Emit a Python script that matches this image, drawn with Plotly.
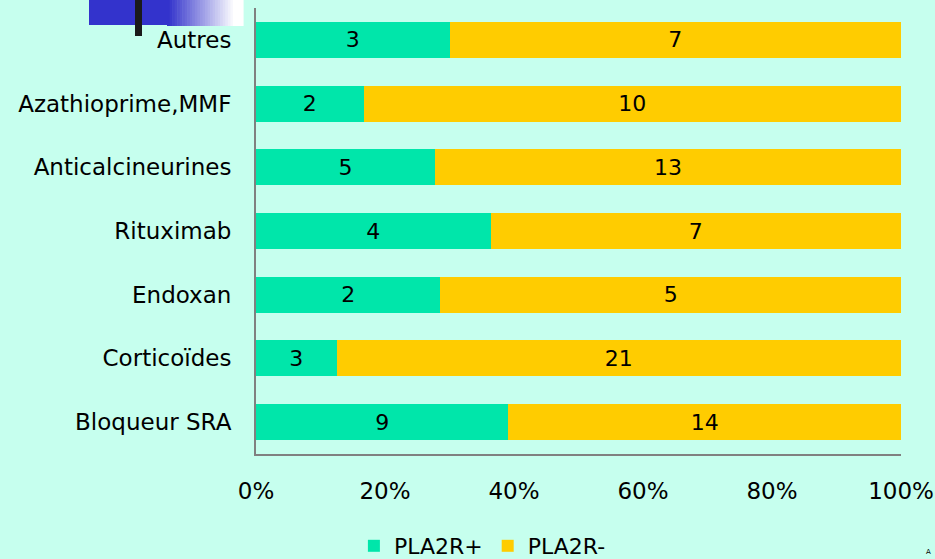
"""100% stacked bar chart: PLA2R+ / PLA2R- by treatment."""

import plotly.graph_objects as go

categories = ["Autres", "Azathioprime,MMF", "Anticalcineurines", "Rituximab",
              "Endoxan", "Corticoïdes", "Bloqueur SRA"]
pla2r_pos = [3, 2, 5, 4, 2, 3, 9]
pla2r_neg = [7, 10, 13, 7, 5, 21, 14]
x_ticks = [0, 20, 40, 60, 80, 100]

BG = "#C6FFEE"
GREEN = "#00E6AA"
YELLOW = "#FFCC00"
FONT = "DejaVu Sans"
W, H = 935, 559

# plot area in pixels (used for the decoration shapes only)
PL, PR, PT, PB = 256, 901, 8, 454

fig = go.Figure()
for name, vals, color in [("PLA2R+", pla2r_pos, GREEN), ("PLA2R-", pla2r_neg, YELLOW)]:
    fig.add_trace(
        go.Bar(
            y=categories,
            x=vals,
            name=name,
            orientation="h",
            marker=dict(color=color, line=dict(width=0)),
            text=[str(v) for v in vals],
            textposition="inside",
            insidetextanchor="middle",
            textangle=0,
            textfont=dict(family=FONT, size=22, color="#000000"),
        )
    )


def px(x):
    return (x - PL) / (PR - PL)


def py(y):
    return (PB - y) / (PB - PT)


# decoration in the top-left corner: blue band fading to white, black bar
shapes = [dict(type="rect", xref="paper", yref="paper", layer="below",
               x0=px(89), x1=px(167), y0=py(25), y1=py(0),
               fillcolor="#3333CC", line=dict(width=0))]
steps = 30
for i in range(steps):
    t = min(1.0, i / (steps - 4))
    r = int(0x33 + (255 - 0x33) * t)
    b = int(0xCC + (255 - 0xCC) * t)
    x0 = 167 + i * (243 - 167) / steps
    x1 = 167 + (i + 1) * (243 - 167) / steps + 0.6
    shapes.append(dict(type="rect", xref="paper", yref="paper", layer="below",
                       x0=px(x0), x1=px(x1), y0=py(26), y1=py(0),
                       fillcolor=f"rgb({r},{r},{b})", line=dict(width=0)))
shapes.append(dict(type="rect", xref="paper", yref="paper",
                   x0=px(135), x1=px(142), y0=py(36), y1=py(0),
                   fillcolor="#1A1A1A", line=dict(width=0)))

fig.update_layout(
    width=W,
    height=H,
    barmode="stack",
    barnorm="percent",
    bargap=0.435,
    paper_bgcolor=BG,
    plot_bgcolor=BG,
    font=dict(family=FONT, size=23, color="#000000"),
    margin=dict(l=PL, r=W - PR, t=PT, b=H - PB, autoexpand=False),
    shapes=shapes,
    showlegend=True,
    legend=dict(
        orientation="h",
        traceorder="normal",
        x=0.351,
        xanchor="center",
        y=py(546),
        yanchor="middle",
        font=dict(family=FONT, size=22),
        bgcolor="rgba(0,0,0,0)",
        itemwidth=30,
    ),
    annotations=[
        dict(text="A", xref="paper", yref="paper", x=px(928), y=py(558),
             xanchor="center", yanchor="bottom", showarrow=False,
             font=dict(family=FONT, size=7, color="#000000")),
    ],
    xaxis=dict(
        range=[0, 100],
        tickvals=x_ticks,
        ticktext=[f"{v}%" for v in x_ticks],
        showgrid=False,
        zeroline=False,
        showline=True,
        linecolor="#808080",
        linewidth=2,
        ticks="",
        ticklabelstandoff=15,
        tickfont=dict(family=FONT, size=23),
        automargin=False,
        fixedrange=True,
    ),
    yaxis=dict(
        autorange="reversed",
        showgrid=False,
        zeroline=False,
        showline=True,
        linecolor="#808080",
        linewidth=2,
        ticks="",
        ticklabelstandoff=18,
        tickfont=dict(family=FONT, size=23),
        automargin=False,
        fixedrange=True,
    ),
    uniformtext=dict(minsize=10, mode="show"),
)

fig.write_html(
    "out.html",
    config={"displayModeBar": False},
    post_script="document.body.style.margin='0';",
)
